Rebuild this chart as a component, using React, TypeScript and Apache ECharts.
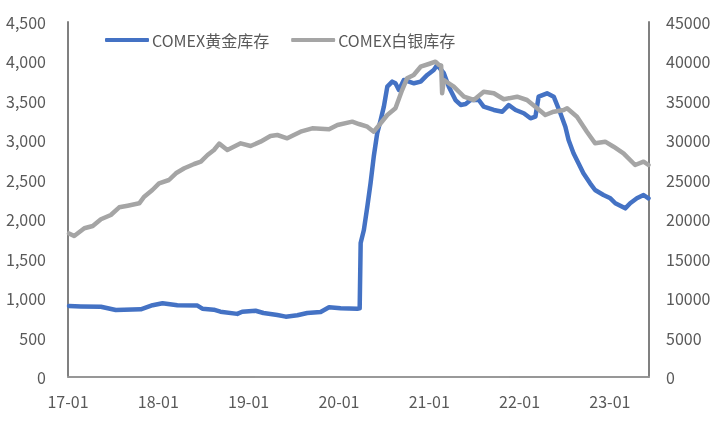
import React, { useEffect, useRef } from "react";
import * as echarts from "echarts";

const goldName = "COMEX黄金库存";
const silverName = "COMEX白银库存";

const xTickYears = [17, 18, 19, 20, 21, 22, 23];

const goldDates = [
  "2017-01-05", "2017-02-22", "2017-05-14", "2017-07-13", "2017-10-22", "2017-12-09",
  "2018-01-18", "2018-03-19", "2018-06-08", "2018-06-28", "2018-08-13", "2018-09-09",
  "2018-11-16", "2018-12-06", "2019-01-29", "2019-03-02", "2019-04-27", "2019-05-31",
  "2019-07-17", "2019-08-26", "2019-10-19", "2019-11-22", "2020-01-08", "2020-03-16",
  "2020-03-25", "2020-03-29", "2020-04-11", "2020-04-25", "2020-05-08", "2020-05-21",
  "2020-06-04", "2020-06-18", "2020-07-01", "2020-07-15", "2020-08-04", "2020-08-17",
  "2020-08-31", "2020-09-20", "2020-10-31", "2020-11-27", "2020-12-24", "2021-01-19",
  "2021-02-02", "2021-03-01", "2021-03-21", "2021-04-17", "2021-05-08", "2021-05-28",
  "2021-06-17", "2021-07-20", "2021-08-09", "2021-09-19", "2021-10-23", "2021-11-18",
  "2021-12-16", "2022-01-18", "2022-02-14", "2022-03-06", "2022-03-19", "2022-04-22",
  "2022-05-19", "2022-06-15", "2022-07-05", "2022-07-18", "2022-08-07", "2022-08-27",
  "2022-09-16", "2022-10-13", "2022-11-02", "2022-12-06", "2023-01-03", "2023-01-23",
  "2023-03-04", "2023-03-24", "2023-04-20", "2023-05-17", "2023-06-06",
];
const goldValues = [
  900, 895, 890, 850, 858, 910,
  935, 910, 905, 866, 853, 828,
  800, 828, 840, 811, 786, 765,
  782, 811, 824, 883, 871, 866,
  870, 1698, 1863, 2159, 2455, 2793,
  3089, 3258, 3427, 3680, 3744, 3723,
  3638, 3765, 3723, 3744, 3829, 3892,
  3955, 3850, 3680, 3511, 3448, 3461,
  3511, 3511, 3427, 3385, 3363, 3448,
  3385, 3343, 3279, 3300, 3553, 3596,
  3553, 3343, 3173, 3004, 2836, 2709,
  2582, 2455, 2370, 2307, 2265, 2202,
  2138, 2202, 2265, 2307, 2265,
];

const silverDates = [
  "2017-01-05", "2017-01-26", "2017-03-08", "2017-04-11", "2017-05-14", "2017-06-23",
  "2017-07-27", "2017-08-30", "2017-10-16", "2017-11-05", "2017-12-08", "2018-01-04",
  "2018-02-13", "2018-03-13", "2018-04-16", "2018-05-26", "2018-06-22", "2018-07-19",
  "2018-08-14", "2018-09-04", "2018-10-07", "2018-11-30", "2019-01-09", "2019-02-18",
  "2019-03-30", "2019-04-27", "2019-06-06", "2019-07-30", "2019-09-15", "2019-11-22",
  "2019-12-26", "2020-02-24", "2020-03-22", "2020-04-25", "2020-05-21", "2020-06-18",
  "2020-07-15", "2020-08-17", "2020-09-13", "2020-10-03", "2020-10-30", "2020-11-27",
  "2020-12-30", "2021-01-26", "2021-02-09", "2021-02-18", "2021-02-22", "2021-03-01",
  "2021-04-10", "2021-05-21", "2021-06-30", "2021-08-09", "2021-09-19", "2021-10-29",
  "2021-12-22", "2022-01-31", "2022-03-13", "2022-04-15", "2022-05-19", "2022-06-28",
  "2022-07-12", "2022-08-21", "2022-09-30", "2022-11-02", "2022-12-13", "2023-01-16",
  "2023-02-25", "2023-04-13", "2023-05-17", "2023-06-06",
];
const silverValues = [
  18200, 17870, 18850, 19140, 19990, 20535,
  21510, 21717, 22018, 22855, 23705, 24553,
  24972, 25821, 26455, 27000, 27292, 28140,
  28774, 29580, 28774, 29624, 29282, 29830,
  30549, 30676, 30253, 31096, 31525, 31398,
  31943, 32366, 32070, 31728, 31096, 32159,
  33211, 34062, 36380, 37864, 38282, 39334,
  39676, 39968, 39550, 39500, 35963, 37648,
  36799, 35532, 35112, 36165, 35963, 35205,
  35532, 35112, 34062, 33211, 33629, 33845,
  34062, 32997, 31096, 29624, 29830, 29193,
  28356, 26873, 27292, 26873,
];

const toYear = (s: string) => {
  const [y, m, d] = s.split("-").map(Number);
  const t = Date.UTC(y, m - 1, d);
  const t0 = Date.UTC(y, 0, 1);
  const t1 = Date.UTC(y + 1, 0, 1);
  return y - 2000 + (t - t0) / (t1 - t0);
};

const X_MIN = xTickYears[0];
const X_MAX = 23.433;

export default function App() {
  const ref = useRef<HTMLDivElement>(null);
  useEffect(() => {
    if (!ref.current) return;
    const chart = echarts.init(ref.current, undefined, { renderer: "svg" });
    const font = "'Noto Sans CJK SC', 'Noto Sans', sans-serif";
    const labelColor = "#595959";
    chart.setOption({
      animation: false,
      textStyle: { fontFamily: font },
      grid: { left: 68, top: 22, width: 581, height: 355 },
      legend: {
        left: 100,
        top: 27,
        icon: "roundRect",
        itemWidth: 44,
        itemHeight: 4,
        itemGap: 22,
        textStyle: { fontSize: 16, color: labelColor, fontFamily: font, padding: [0, 0, 0, -2] },
        data: [goldName, silverName],
      },
      xAxis: [
        {
          type: "value",
          min: X_MIN,
          max: X_MAX,
          interval: 1,
          axisLine: { show: true, lineStyle: { color: "#D9D9D9", width: 1.5 } },
          axisTick: { show: false },
          splitLine: { show: false },
          axisLabel: {
            fontSize: 16,
            color: labelColor,
            margin: 16,
            showMaxLabel: false,
            formatter: (v: number) =>
              xTickYears.includes(Math.round(v * 1000) / 1000) ? `${v}-01` : "",
          },
        },
        {
          type: "value",
          position: "top",
          min: X_MIN,
          max: X_MAX,
          axisLine: { show: true, lineStyle: { color: "#808080", width: 1.5 } },
          axisTick: { show: false },
          axisLabel: { show: false },
          splitLine: { show: false },
        },
      ],
      yAxis: [
        {
          type: "value",
          min: 0,
          max: 4500,
          interval: 500,
          position: "left",
          axisLine: { show: true, lineStyle: { color: "#808080", width: 2 } },
          axisTick: { show: false },
          splitLine: { show: false },
          axisLabel: {
            fontSize: 16,
            color: labelColor,
            margin: 22,
            formatter: (v: number) => v.toLocaleString("en-US"),
          },
        },
        {
          type: "value",
          min: 0,
          max: 45000,
          interval: 5000,
          position: "right",
          axisLine: { show: true, lineStyle: { color: "#808080", width: 2 } },
          axisTick: { show: false },
          splitLine: { show: false },
          axisLabel: {
            fontSize: 16,
            color: labelColor,
            margin: 17,
            formatter: (v: number) => String(v),
          },
        },
      ],
      series: [
        {
          name: goldName,
          type: "line",
          xAxisIndex: 0,
          yAxisIndex: 0,
          symbol: "none",
          lineStyle: { color: "#4472C4", width: 4.5, cap: "round", join: "round" },
          itemStyle: { color: "#4472C4" },
          data: goldDates.map((d, i) => [toYear(d), goldValues[i]]),
        },
        {
          name: silverName,
          type: "line",
          xAxisIndex: 0,
          yAxisIndex: 1,
          symbol: "none",
          lineStyle: { color: "#A5A5A5", width: 4.5, cap: "round", join: "round" },
          itemStyle: { color: "#A5A5A5" },
          data: silverDates.map((d, i) => [toYear(d), silverValues[i]]),
        },
      ],
    });
    return () => chart.dispose();
  }, []);
  return (
    <div
      ref={ref}
      style={{ position: "fixed", left: 0, top: 0, width: 717, height: 434 }}
    />
  );
}
